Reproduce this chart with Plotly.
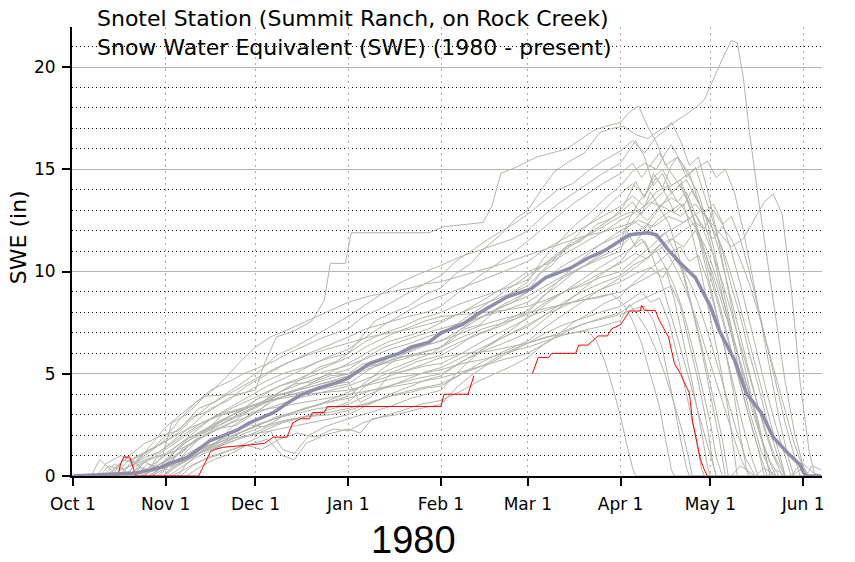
import plotly.graph_objects as go

# ---- data (day index: 0 = Oct 1, water year 1980) ----
month_ticks = [0, 31, 61, 92, 123, 152, 183, 213, 244]
month_labels = ["Oct 1", "Nov 1", "Dec 1", "Jan 1", "Feb 1", "Mar 1", "Apr 1", "May 1", "Jun 1"]
y_ticks = [0, 5, 10, 15, 20]

hist_01 = [[0,0],[18,0],[22,0.4],[26,0.3],[30,1.0],[33,2.6],[38,3.0],[44,3.9],[55,4.0],[61,4.2],[64,5.5],[68,6.8],[74,7.1],[80,7.6],[84,8.6],[86,10.4],[91,10.4],[93,11.9],[119,11.9],[124,12.2],[131,12.3],[137,12.4],[140,13.2],[143,14.8],[148,15.1],[155,15.6],[160,15.8],[165,16.0],[169,16.4],[174,16.9],[178,17.1],[183,17.3],[186,17.8],[189,18.1],[192,17.1],[195,16.3],[198,15.2],[202,15.6],[206,14.8],[210,13.0],[214,10.8],[218,8.2],[222,5.6],[226,3.2],[230,1.2],[234,0],[250,0]]
hist_02 = [[0,0],[24,0],[28,0.5],[32,0.3],[36,0.9],[42,1.4],[48,1.6],[53,2.4],[58,2.9],[63,3.3],[69,4.1],[75,4.6],[82,5.3],[88,5.6],[92,6.0],[97,6.9],[101,7.6],[107,8.0],[112,8.3],[118,8.9],[123,9.2],[128,9.9],[133,10.4],[138,11.2],[143,11.8],[148,12.6],[152,13.0],[157,14.1],[161,14.9],[166,15.4],[171,15.8],[176,16.8],[180,17.0],[184,17.1],[188,16.7],[192,16.5],[196,16.9],[200,17.2],[204,17.6],[208,18.0],[211,18.4],[214,19.4],[217,20.4],[220,21.3],[222,21.2],[224,19.5],[226,16.9],[229,13.6],[232,10.6],[235,7.4],[238,4.6],[241,2.2],[244,0.5],[246,0],[250,0]]
hist_03 = [[0,0],[10,0],[14,0.6],[18,0.2],[22,0],[30,0.4],[36,0.9],[42,1.8],[48,2.3],[55,2.5],[61,3.1],[66,3.6],[72,4.0],[78,4.4],[85,5.0],[92,5.5],[99,6.1],[106,6.6],[113,6.9],[119,7.2],[123,7.5],[130,8.0],[137,8.6],[145,9.3],[152,10.0],[159,10.4],[166,11.0],[173,11.6],[179,12.1],[183,12.5],[188,12.9],[193,13.4],[198,13.1],[203,12.7],[208,13.3],[212,12.6],[216,11.9],[220,11.2],[224,11.6],[228,12.6],[231,13.4],[234,13.8],[237,12.8],[240,9.2],[243,4.6],[246,1.2],[248,0],[250,0]]
hist_04 = [[0,0],[20,0],[25,0.3],[31,0.7],[37,1.2],[43,2.1],[50,2.7],[56,3.0],[62,3.4],[68,3.9],[75,4.2],[83,4.5],[92,4.8],[98,5.3],[105,5.6],[112,5.9],[118,6.1],[123,6.3],[129,7.1],[135,7.8],[141,8.4],[147,9.0],[152,9.5],[157,10.6],[162,11.4],[168,12.3],[173,12.9],[178,13.6],[183,14.2],[187,14.9],[191,15.3],[195,15.0],[198,15.8],[200,16.2],[203,15.4],[206,14.6],[209,13.8],[212,12.4],[215,10.6],[218,8.6],[221,6.6],[224,4.8],[227,3.2],[230,1.8],[233,0.7],[236,0],[250,0]]
hist_05 = [[0,0],[28,0],[32,0.5],[38,0.8],[44,1.3],[50,1.6],[57,2.2],[63,2.6],[70,2.9],[77,3.3],[85,3.6],[92,3.8],[100,4.2],[108,4.5],[116,4.8],[123,5.0],[130,5.6],[137,6.1],[144,6.5],[152,7.0],[158,7.7],[164,8.4],[170,9.1],[176,9.8],[183,10.5],[188,11.4],[192,12.3],[196,13.1],[199,13.7],[202,14.1],[205,14.5],[208,13.6],[211,12.9],[214,13.3],[217,12.4],[220,11.0],[223,9.4],[226,7.6],[229,5.8],[232,4.0],[235,2.4],[238,1.0],[240,0],[250,0]]
hist_06 = [[0,0],[6,0],[9,0.8],[12,0.4],[15,0],[26,0],[30,0.6],[35,1.3],[40,1.9],[46,2.4],[52,2.9],[58,3.3],[63,3.6],[69,4.1],[76,4.5],[84,4.9],[92,5.2],[98,5.8],[104,6.3],[110,6.6],[116,6.9],[123,7.2],[130,7.5],[137,7.8],[144,8.1],[152,8.5],[158,9.1],[164,9.7],[170,10.2],[176,10.7],[183,11.2],[187,11.8],[192,12.3],[195,11.6],[198,11.9],[201,11.0],[204,9.8],[207,8.1],[210,6.2],[213,4.0],[216,1.8],[218,0],[228,0],[231,0.4],[234,0.1],[236,0],[250,0]]
hist_07 = [[0,0],[25,0],[30,0.4],[36,0.6],[42,1.1],[48,1.4],[55,1.8],[62,2.1],[70,2.6],[78,2.9],[86,3.0],[92,3.2],[100,3.6],[108,4.0],[116,4.3],[123,4.5],[130,5.0],[137,5.4],[144,6.0],[152,6.5],[158,6.8],[163,6.9],[168,7.0],[172,7.1],[175,6.6],[178,5.5],[181,4.0],[183,2.9],[185,1.6],[187,0.4],[188,0],[250,0]]
hist_08 = [[0,0],[30,0],[34,0.4],[40,0.9],[47,1.5],[54,2.0],[61,2.4],[68,2.9],[76,3.2],[84,3.6],[92,4.1],[100,4.6],[108,5.0],[116,5.4],[123,5.8],[131,6.0],[139,6.1],[146,6.3],[152,6.5],[159,6.8],[166,7.2],[172,7.5],[178,7.7],[183,7.9],[188,8.2],[191,8.3],[194,7.6],[197,6.2],[199,4.8],[201,3.4],[203,1.8],[205,0.4],[206,0],[220,0],[223,0.5],[226,0.2],[228,0],[250,0]]
hist_09 = [[0,0],[15,0],[19,0.5],[24,0.9],[29,1.2],[34,1.8],[40,2.5],[46,3.3],[52,3.7],[58,4.4],[64,4.9],[70,5.4],[77,5.9],[84,6.3],[92,6.8],[98,7.2],[105,7.5],[112,7.8],[118,8.0],[123,8.3],[129,9.0],[135,9.7],[141,10.3],[147,10.9],[152,11.5],[157,12.1],[162,12.7],[167,13.3],[172,13.8],[177,14.3],[183,14.8],[187,15.3],[190,14.6],[193,15.2],[196,15.8],[199,15.0],[202,14.4],[205,13.6],[208,12.4],[211,10.8],[214,9.2],[217,7.6],[220,6.0],[223,4.4],[226,2.8],[229,1.3],[231,0],[250,0]]
hist_10 = [[0,0],[33,0],[37,0.3],[42,0.7],[48,1.0],[55,1.4],[62,1.9],[66,2.2],[70,1.3],[74,1.1],[79,2.0],[84,2.4],[92,2.8],[99,3.1],[106,3.4],[113,3.8],[118,4.0],[123,4.2],[128,5.0],[133,5.7],[138,6.3],[143,6.8],[148,7.3],[152,7.8],[158,8.1],[164,8.4],[170,8.6],[176,8.8],[183,9.0],[188,9.4],[193,9.8],[198,10.2],[201,9.3],[204,8.0],[207,6.3],[210,4.5],[213,2.6],[215,0.9],[217,0],[250,0]]
hist_11 = [[0,0],[12,0],[15,0.5],[18,0.9],[21,0.6],[25,0.2],[29,0.6],[34,1.0],[40,1.6],[46,2.1],[53,2.6],[60,3.0],[67,3.4],[75,3.8],[83,4.1],[92,4.4],[99,4.8],[106,5.2],[113,5.6],[118,5.9],[123,6.1],[130,6.6],[137,7.0],[144,7.4],[152,8.0],[158,8.9],[164,9.8],[170,10.6],[176,11.3],[183,12.0],[188,12.4],[192,12.0],[196,12.6],[200,13.0],[203,13.3],[206,12.6],[209,11.9],[212,11.0],[215,9.7],[218,8.2],[221,6.6],[224,5.0],[227,3.4],[230,1.9],[233,0.6],[235,0],[250,0]]
hist_12 = [[0,0],[8,0],[11,0.6],[16,1.0],[21,0.7],[26,1.2],[31,1.8],[37,2.5],[42,3.3],[47,3.6],[53,4.2],[58,4.7],[63,5.2],[68,5.9],[74,6.3],[80,6.8],[86,7.3],[92,7.8],[98,8.4],[104,9.0],[110,9.5],[116,9.9],[123,10.3],[129,10.7],[135,11.0],[141,11.3],[147,11.6],[152,12.0],[157,12.7],[162,13.3],[167,13.8],[172,14.3],[177,14.8],[183,15.3],[186,16.0],[188,16.4],[191,15.6],[194,14.2],[197,14.8],[200,13.8],[203,14.3],[206,13.1],[209,12.0],[212,10.6],[215,9.0],[218,7.3],[221,5.6],[224,3.9],[227,2.3],[230,0.9],[232,0],[250,0]]
hist_13 = [[0,0],[35,0],[38,0.6],[43,1.2],[49,1.5],[56,2.0],[63,2.4],[70,2.7],[77,2.9],[85,3.2],[92,3.5],[99,4.0],[106,4.4],[113,4.8],[118,5.1],[123,5.3],[130,5.8],[137,6.3],[144,6.8],[152,7.3],[158,7.9],[164,8.5],[170,9.0],[176,9.4],[183,9.8],[187,10.3],[191,10.6],[195,11.0],[198,10.2],[201,8.6],[204,6.6],[207,4.5],[210,2.2],[212,0.5],[213,0],[250,0]]
hist_14 = [[0,0],[20,0],[24,0.7],[28,0.3],[33,0.8],[39,1.5],[45,2.2],[51,2.8],[57,3.3],[63,3.9],[69,4.4],[76,4.8],[84,5.3],[92,5.8],[99,6.4],[106,6.9],[113,7.3],[118,7.6],[123,7.8],[130,7.9],[137,8.0],[144,8.1],[152,8.3],[158,8.6],[164,9.0],[170,9.3],[176,9.7],[183,10.0],[188,10.6],[193,11.2],[198,11.9],[203,12.3],[208,12.8],[211,12.1],[214,11.6],[217,12.2],[220,11.6],[223,10.6],[226,9.4],[229,8.0],[232,6.4],[235,4.8],[238,3.2],[241,1.6],[244,0.4],[246,0],[250,0]]
hist_15 = [[0,0],[27,0],[31,0.8],[36,1.5],[42,2.0],[48,2.4],[55,2.9],[62,3.2],[69,3.4],[77,3.6],[85,3.8],[92,4.0],[100,4.2],[108,4.4],[116,4.6],[123,4.8],[130,5.1],[137,5.4],[144,5.7],[152,6.0],[158,6.5],[164,7.0],[170,7.4],[176,7.7],[183,8.0],[188,8.5],[194,8.9],[200,9.3],[203,8.3],[206,6.5],[209,4.6],[212,2.4],[214,0.5],[215,0],[240,0],[243,0.3],[246,0],[250,0]]
hist_16 = [[0,0],[22,0],[26,0.5],[31,1.0],[36,1.6],[41,2.2],[47,2.9],[53,3.4],[59,3.9],[65,4.4],[71,4.8],[78,5.3],[85,5.8],[92,6.2],[98,6.8],[104,7.4],[110,7.9],[116,8.4],[123,8.8],[130,9.2],[137,9.6],[144,10.0],[152,10.5],[158,11.1],[164,11.6],[170,12.1],[176,12.6],[183,13.2],[187,13.7],[191,13.2],[195,13.9],[199,14.2],[202,13.4],[205,13.9],[208,12.8],[211,11.9],[214,10.8],[217,9.5],[220,8.0],[223,6.4],[226,4.9],[229,3.4],[232,2.0],[235,0.8],[238,0],[250,0]]
hist_17 = [[0,0],[36,0],[40,0.5],[45,0.9],[51,1.2],[58,1.5],[65,1.8],[70,1.0],[74,0.8],[78,1.6],[84,2.0],[92,2.3],[96,2.1],[100,2.8],[108,3.0],[116,3.3],[123,3.5],[128,4.3],[133,4.9],[138,5.4],[144,5.9],[152,6.5],[158,7.0],[164,7.4],[170,7.7],[176,8.0],[183,8.3],[187,8.7],[190,9.0],[193,8.5],[196,8.7],[199,7.6],[202,5.9],[205,4.0],[208,2.0],[210,0.4],[211,0],[250,0]]
hist_18 = [[0,0],[17,0],[20,0.4],[25,0.8],[31,1.1],[37,1.7],[43,2.2],[49,2.7],[55,3.1],[61,3.5],[68,3.9],[76,4.3],[84,4.7],[92,5.0],[99,5.4],[106,5.8],[113,6.1],[118,6.4],[123,6.6],[130,7.2],[137,7.8],[144,8.4],[152,9.0],[158,9.7],[164,10.3],[170,10.8],[176,11.3],[183,11.8],[188,12.6],[193,13.3],[198,14.0],[203,14.5],[208,15.0],[212,15.4],[215,14.6],[218,15.0],[221,13.9],[224,12.0],[227,9.8],[230,7.4],[233,5.0],[236,2.8],[239,0.9],[241,0],[250,0]]
hist_19 = [[0,0],[24,0],[28,0.9],[32,1.1],[37,1.4],[43,1.9],[49,2.5],[55,3.0],[61,3.4],[68,3.8],[76,4.1],[84,4.4],[92,4.6],[96,3.6],[100,3.9],[106,5.0],[113,5.2],[118,5.4],[123,5.5],[130,6.0],[137,6.6],[144,7.1],[152,7.7],[158,8.4],[164,9.0],[170,9.6],[176,10.2],[183,10.8],[187,11.2],[190,11.6],[193,10.9],[196,11.3],[199,10.8],[202,10.0],[205,9.0],[208,7.8],[211,6.4],[214,5.0],[217,3.6],[220,2.2],[223,0.9],[226,0],[250,0]]
hist_20 = [[0,0],[30,0],[33,0.4],[38,0.8],[44,1.3],[50,1.8],[57,2.2],[64,2.6],[71,3.0],[78,3.3],[85,3.6],[92,3.9],[98,4.6],[104,5.3],[110,5.9],[116,6.4],[123,6.9],[130,7.6],[137,8.3],[144,9.0],[152,9.8],[158,10.4],[164,11.0],[170,11.6],[176,12.1],[183,12.7],[188,13.0],[192,12.5],[196,13.2],[200,13.6],[204,13.2],[207,14.0],[210,13.1],[213,12.4],[216,11.0],[219,9.2],[222,7.4],[225,5.6],[228,3.9],[231,2.3],[234,1.0],[237,0],[250,0]]
hist_21 = [[0,0],[14,0],[18,0.7],[22,1.0],[27,1.4],[32,2.1],[36,2.8],[41,3.6],[46,4.1],[51,4.8],[56,5.6],[61,6.3],[66,6.8],[71,7.1],[77,7.5],[84,8.0],[92,8.5],[99,8.8],[106,9.0],[113,9.2],[118,9.4],[123,9.5],[130,9.8],[137,10.1],[144,10.4],[152,10.8],[158,11.1],[164,11.4],[170,11.7],[176,11.9],[183,12.2],[189,12.5],[194,12.2],[199,12.7],[204,12.4],[210,13.0],[213,12.3],[216,11.5],[219,10.3],[222,8.8],[225,7.1],[228,5.4],[231,3.7],[234,2.1],[237,0.6],[238,0],[250,0]]
hist_22 = [[0,0],[19,0],[22,0.5],[27,0.9],[32,1.4],[38,2.0],[44,2.6],[50,3.1],[56,3.5],[62,3.9],[69,4.4],[76,4.7],[84,5.1],[92,5.4],[99,5.8],[106,6.2],[113,6.5],[118,6.8],[123,7.0],[130,7.4],[137,7.8],[144,8.3],[152,8.8],[158,9.3],[164,9.8],[170,10.2],[176,10.6],[183,11.0],[185,12.0],[188,11.2],[191,11.5],[194,10.6],[197,9.3],[200,7.8],[203,6.3],[206,4.7],[209,3.1],[212,1.5],[215,0],[250,0]]
hist_23 = [[0,0],[9,0],[12,0.5],[16,0.3],[21,0.6],[26,0.9],[31,1.4],[37,2.0],[43,2.6],[49,3.0],[56,3.3],[63,3.6],[70,3.8],[78,4.0],[85,4.1],[92,4.2],[100,4.5],[108,4.8],[116,5.0],[123,5.2],[130,5.5],[137,5.7],[144,6.0],[152,6.3],[158,6.6],[164,6.9],[170,7.1],[176,7.3],[183,7.6],[186,8.4],[189,7.8],[192,7.1],[195,6.1],[198,4.9],[201,3.5],[204,2.0],[206,0.7],[207,0],[250,0]]
hist_24 = [[0,0],[31,0],[35,0.6],[40,1.1],[46,1.5],[52,1.8],[59,2.0],[66,2.2],[73,2.4],[80,2.6],[86,2.8],[92,3.0],[99,3.5],[106,4.0],[113,4.4],[118,4.7],[123,4.9],[130,5.6],[137,6.2],[144,6.8],[152,7.4],[158,7.9],[164,8.3],[170,8.7],[176,9.1],[183,9.5],[188,9.9],[193,10.2],[197,9.7],[201,10.6],[204,10.1],[207,9.2],[210,8.0],[213,6.6],[216,5.1],[219,3.6],[222,2.1],[225,0.8],[228,0],[245,0],[247,0.5],[250,0.3]]
hist_25 = [[0,0],[16,0],[20,0.8],[25,1.2],[30,1.6],[35,2.1],[40,2.8],[46,3.5],[52,4.0],[58,4.5],[64,5.0],[71,5.5],[78,5.9],[85,6.2],[92,6.5],[99,6.8],[106,7.0],[113,7.2],[118,7.4],[123,7.6],[130,8.0],[137,8.4],[144,8.8],[152,9.3],[158,10.2],[164,11.1],[170,12.0],[176,12.8],[183,13.8],[187,14.3],[191,13.7],[194,14.6],[197,15.0],[200,14.2],[203,14.5],[206,13.3],[209,11.7],[212,9.9],[215,8.0],[218,6.1],[221,4.2],[224,2.4],[227,0.8],[229,0],[250,0]]
hist_26 = [[0,0],[21,0],[25,0.6],[29,0.4],[34,1.2],[39,1.9],[45,2.3],[50,3.0],[56,3.2],[62,3.8],[68,4.0],[74,4.5],[80,4.6],[86,4.9],[92,5.0],[97,5.5],[102,5.4],[108,5.8],[114,5.9],[120,6.0],[126,6.6],[131,7.2],[136,7.4],[142,8.2],[147,8.5],[152,9.0],[156,9.9],[160,10.3],[165,11.2],[170,11.5],[175,12.3],[180,12.6],[184,13.2],[188,14.4],[191,13.6],[194,14.8],[197,14.1],[200,15.2],[202,15.6],[205,14.6],[208,15.1],[211,13.8],[214,12.4],[217,11.0],[220,9.3],[223,7.8],[226,6.0],[229,4.4],[232,2.7],[235,1.2],[238,0],[250,0]]
hist_27 = [[0,0],[26,0],[30,0.3],[35,0.7],[41,1.2],[47,1.6],[53,2.1],[59,2.5],[64,2.4],[70,2.9],[76,3.1],[82,3.3],[88,3.4],[92,3.6],[97,4.3],[103,4.9],[109,5.2],[115,5.6],[123,5.9],[128,6.3],[134,6.9],[140,7.2],[146,7.7],[152,8.1],[157,8.8],[162,9.3],[167,9.9],[172,10.4],[177,10.9],[183,11.5],[186,12.6],[189,13.4],[192,13.9],[195,14.6],[198,13.8],[201,12.9],[204,13.3],[207,11.8],[210,9.9],[213,7.8],[216,5.6],[219,3.2],[221,1.2],[222,0],[250,0]]
hist_28 = [[0,0],[38,0],[42,0.4],[47,0.8],[53,1.1],[58,1.5],[63,1.3],[69,1.8],[75,2.1],[81,1.9],[87,2.3],[92,2.2],[97,2.6],[103,2.9],[110,3.2],[116,3.5],[123,3.7],[129,4.1],[135,4.6],[141,5.0],[147,5.4],[152,5.8],[157,6.4],[162,6.9],[167,7.5],[172,7.9],[177,8.4],[183,8.8],[187,9.4],[191,9.9],[195,10.4],[199,10.9],[203,11.2],[206,10.5],[209,10.8],[212,9.6],[215,7.9],[218,6.1],[221,3.9],[223,2.0],[225,0.4],[226,0],[250,0]]
hist_29 = [[0,0],[13,0],[17,0.8],[21,0.6],[26,1.5],[31,2.4],[36,3.0],[41,3.6],[46,4.2],[52,4.6],[57,5.0],[62,5.3],[67,5.6],[72,6.0],[78,6.4],[84,6.8],[92,7.2],[97,7.8],[103,8.2],[109,8.7],[115,9.2],[123,9.8],[128,10.5],[134,11.1],[140,11.7],[146,12.2],[152,12.8],[157,13.4],[162,14.0],[167,14.3],[172,14.9],[177,15.4],[183,15.9],[187,16.4],[191,15.8],[195,16.6],[198,16.9],[200,17.3],[203,16.4],[206,15.2],[209,15.6],[212,14.0],[215,12.0],[218,9.8],[221,7.6],[224,5.6],[227,3.7],[230,1.9],[233,0],[250,0]]
hist_30 = [[0,0],[29,0],[33,0.7],[37,1.4],[42,1.8],[48,2.3],[54,2.7],[60,3.3],[66,3.9],[72,4.1],[78,4.3],[85,4.6],[92,4.9],[98,5.2],[104,5.5],[110,5.7],[116,6.0],[123,6.3],[130,6.8],[137,7.2],[144,7.5],[152,7.9],[158,8.5],[164,9.0],[170,9.4],[176,9.9],[183,10.4],[188,10.9],[192,10.6],[196,11.3],[200,11.6],[204,11.2],[208,12.0],[211,11.0],[214,9.8],[217,8.4],[220,7.0],[223,5.6],[226,4.2],[229,2.7],[231,1.3],[233,0],[240,0],[242,0.4],[244,0.6],[247,0.2],[250,0]]
hist_31 = [[0,0],[11,0],[14,0.4],[19,1.0],[24,1.6],[30,2.0],[35,2.2],[40,2.9],[46,3.2],[52,3.8],[58,4.1],[64,4.6],[70,5.0],[77,5.3],[84,5.7],[92,6.0],[98,6.6],[104,7.0],[110,7.3],[116,7.7],[123,8.0],[129,8.4],[135,8.7],[141,9.0],[147,9.3],[152,9.6],[157,10.3],[162,10.9],[167,11.4],[172,11.8],[177,12.3],[183,12.9],[187,13.4],[190,12.8],[193,13.9],[196,13.1],[199,12.4],[202,11.0],[205,9.4],[208,7.6],[211,5.8],[214,3.8],[217,1.8],[219,0],[232,0],[235,0.3],[238,0],[250,0]]
hist_32 = [[0,0],[32,0],[36,0.4],[41,0.9],[47,1.3],[53,1.7],[59,2.0],[65,2.4],[71,2.7],[78,2.9],[85,3.1],[92,3.3],[99,3.6],[106,3.9],[113,4.1],[118,4.3],[123,4.4],[130,5.0],[137,5.6],[144,6.1],[152,6.6],[158,7.3],[164,7.9],[170,8.5],[176,9.1],[183,9.7],[188,10.2],[193,10.8],[198,11.3],[203,11.9],[208,12.4],[211,12.1],[214,13.0],[217,12.3],[220,12.7],[223,11.6],[226,10.0],[229,8.2],[232,6.3],[235,4.4],[238,2.6],[241,1.0],[243,0],[250,0]]
hist_33 = [[0,0],[18,0],[22,0.9],[26,1.3],[31,1.7],[37,2.2],[43,2.6],[50,3.0],[57,3.3],[64,3.6],[71,3.9],[78,4.1],[85,4.3],[92,4.5],[99,5.2],[106,5.8],[113,6.2],[118,6.4],[123,6.6],[130,7.0],[137,7.4],[144,7.7],[152,8.0],[158,8.2],[164,8.4],[170,8.6],[175,8.7],[180,8.9],[184,8.4],[187,7.6],[190,6.5],[193,5.0],[196,3.4],[198,1.8],[200,0.3],[201,0],[250,0]]

history = [hist_01, hist_02, hist_03, hist_04, hist_05, hist_06, hist_07, hist_08, hist_09,
           hist_10, hist_11, hist_12, hist_13, hist_14, hist_15, hist_16, hist_17, hist_18,
           hist_19, hist_20, hist_21, hist_22, hist_23, hist_24, hist_25, hist_26, hist_27,
           hist_28, hist_29, hist_30, hist_31, hist_32, hist_33]

mean_days = [0,15,21,26,30,32,38,41,46,49,55,59,62,67,72,76,82,88,92,96,99,104,109,113,119,123,130,136,145,153,158,166,172,178,186,192,195,199,203,208,213,216,221,225,230,234,239,243,244,245,250]
mean_swe = [0,0.1,0.15,0.3,0.45,0.6,0.9,1.2,1.75,1.9,2.25,2.6,2.8,3.1,3.6,3.95,4.3,4.55,4.8,5.2,5.5,5.75,6.0,6.3,6.55,7.0,7.4,8.0,8.75,9.15,9.7,10.15,10.65,11.05,11.8,11.9,11.8,11.05,10.4,9.7,8.3,7.1,5.7,4.05,3.1,1.9,1.1,0.55,0.2,0,0]

wy1980_days = [0,15,16,17,19,20,21,42,44,46,47.5,50,55,58,64,67,71.5,73.5,76,79,80,84,85,123,124,132,134,140,153.5,155.5,159,160,168,169,172,175.5,178.6,180,183,186,189.6,190,191,194.6,196,199,201,203,204.7,206,207,208.7,209.7,211,212]
wy1980_swe = [0,0,0.6,0.93,0.93,0.5,0,0,0.6,1.2,1.3,1.4,1.47,1.5,1.6,1.9,1.9,2.6,2.8,2.8,3.1,3.1,3.4,3.4,4.0,4.0,4.9,None,5.0,5.8,5.8,6.0,6.0,6.4,6.4,6.85,6.85,7.2,7.4,8.07,8.07,8.35,8.1,8.1,7.6,6.8,5.5,5.0,4.45,4.05,2.7,1.6,0.8,0.3,0]

GRAY = "rgb(180,180,172)"

fig = go.Figure()
for series in history:
    fig.add_trace(go.Scatter(x=[p[0] for p in series], y=[p[1] for p in series], mode="lines",
                             line=dict(color=GRAY, width=1), showlegend=False, hoverinfo="skip"))
fig.add_trace(go.Scatter(x=wy1980_days, y=wy1980_swe, mode="lines", connectgaps=False,
                         line=dict(color="red", width=1), showlegend=False))
fig.add_trace(go.Scatter(x=mean_days, y=mean_swe, mode="lines",
                         line=dict(color="rgb(142,142,172)", width=3.5), showlegend=False))

FONT = "DejaVu Sans, Liberation Sans, sans-serif"
BIG = "Liberation Sans, Arial, sans-serif"

fig.update_layout(
    width=855, height=562,
    margin=dict(l=72, r=33, t=27, b=86),
    paper_bgcolor="white", plot_bgcolor="white",
    font=dict(family=FONT, color="black"),
    xaxis=dict(range=[-0.3, 250.3], tickmode="array", tickvals=month_ticks, ticktext=month_labels,
               showgrid=True, gridcolor="rgb(170,170,170)", griddash="2px,4px", gridwidth=1,
               showline=True, linecolor="black", linewidth=2, ticks="outside", ticklen=8,
               tickwidth=2, tickcolor="black", tickfont=dict(size=17, family=FONT),
               zeroline=False, ticklabelstandoff=4),
    yaxis=dict(range=[0, 21.96], tickmode="array", tickvals=y_ticks,
               showgrid=True, gridcolor="rgb(182,182,174)", gridwidth=1,
               minor=dict(dtick=1, showgrid=True, gridcolor="black", griddash="1px,3px", gridwidth=1),
               showline=True, linecolor="black", linewidth=2, ticks="outside", ticklen=8,
               tickwidth=2, tickcolor="black", tickfont=dict(size=17, family=FONT),
               zeroline=False, ticklabelstandoff=3),
    annotations=[
        dict(text="Snotel Station (Summit Ranch, on Rock Creek)", xref="paper", yref="paper",
             x=0.0307, y=1.020, xanchor="left", yanchor="middle", showarrow=False,
             font=dict(size=22, family=FONT)),
        dict(text="Snow Water Equivalent (SWE) (1980 - present)", xref="paper", yref="paper",
             x=0.0307, y=0.955, xanchor="left", yanchor="middle", showarrow=False,
             font=dict(size=22, family=FONT)),
        dict(text="SWE (in)", xref="paper", yref="paper", x=-0.072, y=0.532, textangle=-90,
             xanchor="center", yanchor="middle", showarrow=False, font=dict(size=22, family=FONT)),
        dict(text="1980", xref="paper", yref="paper", x=0.4547, y=-0.1425,
             xanchor="center", yanchor="middle", showarrow=False, font=dict(size=38, family=BIG)),
    ],
)

fig.write_html("out.html", config={"displayModeBar": False},
               post_script="document.body.style.margin='0';document.body.style.padding='0';document.body.style.overflow='hidden';")
